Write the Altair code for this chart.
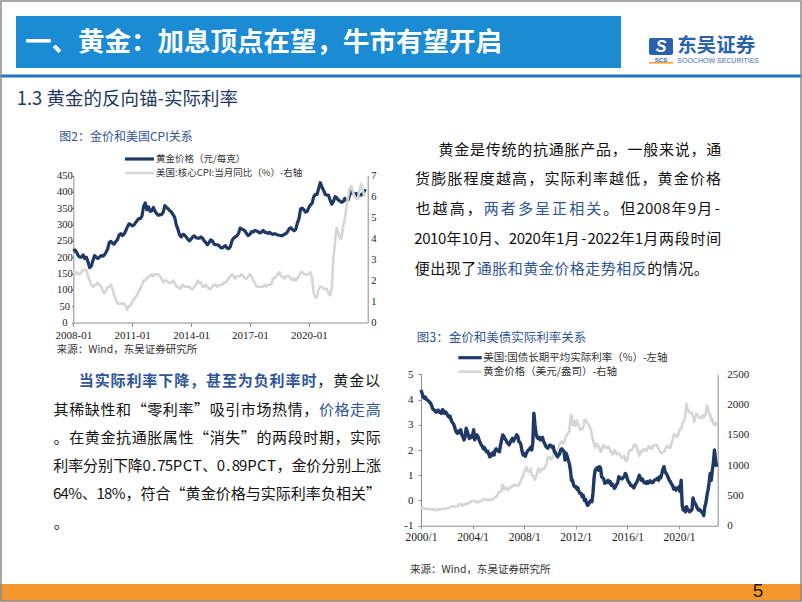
import altair as alt
import pandas as pd

# ---------------- data ----------------
# Fig.2: monthly, starting 2008-01
fig2_start = (2008, 1)
fig2_gold_cny = [
    218, 222, 215, 205, 200, 200, 207, 196, 200, 185, 168, 172,
    190, 205, 200, 196, 200, 205, 203, 207, 215, 225, 245, 248,
    243, 240, 248, 253, 268, 272, 266, 270, 280, 292, 302, 300,
    296, 298, 305, 312, 318, 318, 326, 356, 366, 345, 354, 340,
    342, 352, 340, 333, 328, 330, 330, 338, 358, 352, 348, 342,
    338, 330, 322, 298, 285, 268, 262, 270, 268, 262, 255, 250,
    255, 262, 265, 260, 258, 258, 262, 258, 250, 245, 238, 244,
    253, 250, 240, 238, 238, 236, 230, 228, 232, 235, 228, 226,
    232, 250, 258, 262, 265, 272, 289, 286, 284, 280, 272, 266,
    270, 278, 277, 282, 280, 278, 274, 277, 282, 276, 276, 273,
    276, 272, 270, 272, 270, 268, 267, 266, 266, 270, 272, 278,
    287, 290, 285, 281, 285, 305, 318, 348, 350, 345, 338, 340,
    352, 360, 365, 385, 392, 392, 410, 428, 415, 405, 392, 390,
    390, 375, 362, 370, 385, 382, 375, 372, 368, 370, 380, 373,
    375, 390, 405, 396, 392, 395, 386, 392, 390, 395, 404, 402,
]
fig2_core_cpi = [
    2.5, 2.3, 2.4, 2.3, 2.3, 2.4, 2.5, 2.5, 2.5, 2.2, 2.0, 1.8,
    1.7, 1.8, 1.8, 1.9, 1.8, 1.7, 1.5, 1.4, 1.5, 1.7, 1.7, 1.8,
    1.6, 1.3, 1.1, 0.9, 0.9, 0.9, 0.9, 0.9, 0.8, 0.6, 0.8, 0.8,
    1.0, 1.1, 1.2, 1.3, 1.5, 1.6, 1.8, 2.0, 2.0, 2.1, 2.2, 2.2,
    2.3, 2.2, 2.3, 2.3, 2.3, 2.2, 2.1, 1.9, 2.0, 2.0, 1.9, 1.9,
    1.9, 2.0, 1.9, 1.7, 1.7, 1.6, 1.7, 1.8, 1.7, 1.7, 1.7, 1.7,
    1.6, 1.6, 1.7, 1.8, 2.0, 1.9, 1.9, 1.7, 1.7, 1.8, 1.7, 1.6,
    1.6, 1.7, 1.8, 1.8, 1.7, 1.8, 1.8, 1.8, 1.9, 1.9, 2.0, 2.1,
    2.2, 2.3, 2.2, 2.1, 2.2, 2.2, 2.2, 2.3, 2.2, 2.1, 2.1, 2.2,
    2.3, 2.2, 2.0, 1.9, 1.7, 1.7, 1.7, 1.7, 1.7, 1.8, 1.7, 1.8,
    1.8, 1.8, 2.1, 2.1, 2.2, 2.3, 2.4, 2.2, 2.2, 2.1, 2.2, 2.2,
    2.2, 2.1, 2.0, 2.1, 2.0, 2.1, 2.2, 2.4, 2.4, 2.3, 2.3, 2.3,
    2.3, 2.4, 2.1, 1.4, 1.2, 1.2, 1.6, 1.7, 1.7, 1.6, 1.6, 1.6,
    1.4, 1.3, 1.6, 3.0, 3.8, 4.5, 4.3, 4.0, 4.0, 4.6, 4.9, 5.5,
    6.0, 6.4, 6.5, 6.2, 6.0, 5.9, 5.9, 6.3, 6.6, 6.3, 6.0,
]

# Fig.3: monthly, starting 2000-01
fig3_start = (2000, 1)
fig3_real_rate = [
    4.38, 4.25, 4.1, 4.05, 4.1, 4.0, 3.98, 3.95, 3.9, 3.85, 3.75, 3.62,
    3.6, 3.55, 3.5, 3.55, 3.58, 3.5, 3.52, 3.45, 3.6, 3.55, 3.45, 3.5,
    3.45, 3.35, 3.3, 3.35, 3.2, 3.1, 3.05, 2.95, 2.8, 2.7, 2.66, 2.75,
    2.7, 2.8, 2.6, 2.53, 2.4, 2.5, 2.86, 2.75, 2.6, 2.46, 2.55, 2.5,
    2.6, 2.8, 2.4, 2.55, 2.6, 2.53, 2.4, 2.3, 2.2, 2.15, 2.05, 2.1,
    2.0, 1.93, 1.95, 1.85, 1.73, 1.75, 1.87, 1.9, 1.8, 2.0, 2.05, 2.0,
    1.95, 1.93, 2.2, 2.4, 2.6, 2.55, 2.45, 2.4, 2.3, 2.26, 2.2, 2.3,
    2.4, 2.46, 2.35, 2.45, 2.5, 2.6, 2.55, 2.33, 2.3, 2.2, 1.95, 1.8,
    1.85, 1.75, 1.87, 1.95, 2.0, 2.05, 2.1, 2.0, 2.3, 3.46, 3.0, 2.66,
    2.5, 2.46, 2.5, 2.4, 2.45, 2.5, 2.35, 2.26, 2.15, 2.1, 2.07, 2.15,
    2.2, 2.15, 2.1, 2.15, 1.93, 1.9, 1.8, 1.73, 1.8, 1.85, 2.0, 2.05,
    2.0, 1.95, 1.6, 1.87, 1.75, 1.6, 1.45, 1.2, 0.8, 0.8, 0.6, 0.54,
    0.55, 0.45, 0.5, 0.34, 0.28, 0.28, 0.15, 0.2, 0.0, 0.05, -0.1, -0.2,
    -0.15, -0.05, 0.0, -0.05, 0.3, 0.9, 1.2, 1.25, 1.3, 1.2, 1.34, 1.3,
    0.94, 0.9, 0.85, 0.68, 0.7, 0.75, 0.8, 0.7, 0.75, 0.6, 0.65, 0.55,
    0.48, 0.55, 0.65, 0.7, 0.94, 0.9, 0.87, 0.85, 0.9, 0.95, 1.07, 1.0,
    0.85, 0.74, 0.7, 0.6, 0.6, 0.54, 0.5, 0.6, 0.68, 0.75, 0.87, 1.0,
    0.9, 0.8, 0.85, 0.75, 0.7, 0.68, 0.75, 0.68, 0.7, 0.78, 0.74, 0.7,
    0.72, 0.8, 0.82, 0.85, 0.88, 0.8, 0.94, 0.9, 1.05, 1.25, 1.34, 1.15,
    1.07, 1.0, 0.9, 0.8, 0.75, 0.65, 0.6, 0.45, 0.5, 0.41, 0.48, 0.45,
    0.54, 0.35, 0.8, -0.2, -0.38, -0.3, -0.45, -0.25, -0.35, -0.4, -0.45, -0.4,
    -0.38, 0.1, -0.05, -0.12, -0.2, -0.3, -0.38, -0.35, -0.4, -0.45, -0.5, -0.6,
    -0.25, -0.1, 0.2, 0.41, 0.7, 1.07, 0.8, 1.2, 1.5, 2.0, 1.6, 1.34,
]
fig3_gold_usd = [
    290, 298, 286, 280, 275, 285, 282, 275, 273, 270, 266, 272,
    266, 262, 263, 261, 272, 270, 268, 273, 284, 283, 276, 276,
    282, 296, 294, 302, 314, 321, 313, 310, 319, 317, 319, 333,
    357, 359, 340, 328, 355, 356, 351, 360, 379, 379, 389, 407,
    414, 405, 406, 404, 384, 392, 398, 400, 405, 420, 439, 442,
    424, 423, 434, 429, 422, 430, 424, 437, 456, 470, 476, 510,
    549, 555, 557, 610, 676, 596, 633, 632, 598, 585, 627, 629,
    631, 664, 655, 679, 667, 655, 665, 665, 712, 754, 806, 803,
    889, 922, 968, 909, 888, 889, 939, 839, 829, 806, 760, 816,
    858, 943, 924, 890, 928, 946, 934, 949, 996, 1043, 1127, 1134,
    1118, 1095, 1113, 1148, 1205, 1232, 1193, 1215, 1271, 1342, 1370, 1391,
    1356, 1372, 1424, 1473, 1510, 1529, 1572, 1780, 1830, 1665, 1739, 1652,
    1656, 1742, 1674, 1650, 1585, 1596, 1594, 1630, 1744, 1747, 1722, 1685,
    1671, 1627, 1593, 1487, 1414, 1343, 1286, 1352, 1348, 1316, 1275, 1221,
    1244, 1300, 1336, 1299, 1287, 1279, 1311, 1296, 1238, 1222, 1176, 1200,
    1251, 1227, 1178, 1198, 1199, 1181, 1128, 1117, 1125, 1159, 1086, 1068,
    1097, 1199, 1246, 1242, 1260, 1276, 1337, 1340, 1326, 1266, 1236, 1151,
    1192, 1234, 1231, 1266, 1246, 1260, 1237, 1283, 1315, 1280, 1282, 1265,
    1331, 1331, 1325, 1335, 1303, 1281, 1238, 1202, 1199, 1215, 1220, 1250,
    1291, 1320, 1300, 1286, 1284, 1359, 1413, 1500, 1510, 1495, 1471, 1480,
    1560, 1597, 1592, 1683, 1716, 1732, 1847, 2010, 1921, 1901, 1866, 1858,
    1867, 1808, 1718, 1760, 1850, 1834, 1807, 1785, 1775, 1777, 1821, 1790,
    1817, 1856, 1990, 1937, 1849, 1837, 1732, 1764, 1681, 1664, 1700, 1640,
]

fig2_x_ticks = [2008, 2011, 2014, 2017, 2020]
fig2_left_ticks = [0, 50, 100, 150, 200, 250, 300, 350, 400, 450]
fig2_right_ticks = [0, 1, 2, 3, 4, 5, 6, 7]
fig3_x_ticks = [2000, 2004, 2008, 2012, 2016, 2020]
fig3_left_ticks = [-1, 0, 1, 2, 3, 4, 5]
fig3_right_ticks = [0, 500, 1000, 1500, 2000, 2500]

# ---------------- styles ----------------
CJK = "Noto Sans CJK SC"
SERIF = "Liberation Serif"
NAVY = "#1f3864"
LGRAY = "#d6d6d6"
BLUE_TXT = "#2f5597"
BLACK = "#111111"
AXIS_GRAY = "#8c8c8c"
W, H = 802, 602


def month_axis(start, n):
    y0, m0 = start
    return [y0 + (m0 - 1 + i) / 12 for i in range(n)]


def one():
    return alt.Chart(alt.Data(values=[{}]))


def box(x, x2, y, y2, color, **kw):
    return one().mark_rect(color=color, **kw).encode(
        x=alt.value(x), x2=alt.value(x2), y=alt.value(y), y2=alt.value(y2))


def hline(x, x2, y, color, w):
    return one().mark_rule(color=color, strokeWidth=w).encode(
        x=alt.value(x), x2=alt.value(x2), y=alt.value(y))


def label(text, x, y, size, color, font=CJK, weight="normal", align="left", style="normal"):
    return one().mark_text(text=text, align=align, baseline="middle", font=font,
                           fontSize=size, fontWeight=weight, color=color,
                           fontStyle=style).encode(x=alt.value(x), y=alt.value(y))


def make_axis(orient, offset, values, expr, size=11, tick=3, pad=3, align=None):
    kw = dict(orient=orient, offset=offset, values=values, labelExpr=expr, title=None,
              grid=False, labelFont=SERIF, labelFontSize=size, labelColor="#1a1a1a",
              domainColor=AXIS_GRAY, domainWidth=1, tickColor=AXIS_GRAY,
              labelPadding=pad, labelFlush=False, labelOverlap=False, labelBound=False)
    if tick > 0:
        kw.update(ticks=True, tickSize=tick)
    else:
        kw.update(ticks=False)
    if align:
        kw["labelAlign"] = align
    return alt.Axis(**kw)


# ---------------- Fig.2 ----------------
f2_x0, f2_x1, f2_ybot, f2_ytop = 73.3, 367.7, 322.5, 175.5
df2_gold = pd.DataFrame({"t": month_axis(fig2_start, len(fig2_gold_cny)), "v": fig2_gold_cny})
df2_cpi = pd.DataFrame({"t": month_axis(fig2_start, len(fig2_core_cpi)), "v": fig2_core_cpi})
x2_scale = alt.Scale(domain=[2008, 2023], range=[f2_x0, f2_x1], nice=False, zero=False)

fig2_gold = alt.Chart(df2_gold).mark_line(color=NAVY, strokeWidth=3.2, strokeJoin="round").encode(
    x=alt.X("t:Q", scale=x2_scale,
            axis=make_axis("bottom", f2_ybot - H, fig2_x_ticks, "datum.value + '-01'",
                           size=11, tick=4, pad=3)),
    y=alt.Y("v:Q", scale=alt.Scale(domain=[0, 450], range=[f2_ybot, f2_ytop], nice=False, zero=False),
            axis=make_axis("left", -f2_x0, fig2_left_ticks, "'' + datum.value",
                           size=10.5, tick=2, pad=7, align="center")),
)
fig2_cpi = alt.Chart(df2_cpi).mark_line(color=LGRAY, strokeWidth=2.6, strokeJoin="round").encode(
    x=alt.X("t:Q", scale=x2_scale, axis=None),
    y=alt.Y("v:Q", scale=alt.Scale(domain=[0, 7], range=[f2_ybot, f2_ytop], nice=False, zero=False),
            axis=make_axis("right", f2_x1 - W, fig2_right_ticks, "'' + datum.value",
                           size=10.5, tick=0, pad=3)),
)

# ---------------- Fig.3 ----------------
f3_x0, f3_x1, f3_ybot, f3_ytop = 421.0, 717.7, 525.7, 374.3
df3_rate = pd.DataFrame({"t": month_axis(fig3_start, len(fig3_real_rate)), "v": fig3_real_rate})
df3_gold = pd.DataFrame({"t": month_axis(fig3_start, len(fig3_gold_usd)), "v": fig3_gold_usd})
x3_scale = alt.Scale(domain=[2000, 2023], range=[f3_x0, f3_x1], nice=False, zero=False)

fig3_gold = alt.Chart(df3_gold).mark_line(color=LGRAY, strokeWidth=2.6, strokeJoin="round").encode(
    x=alt.X("t:Q", scale=x3_scale, axis=None),
    y=alt.Y("v:Q", scale=alt.Scale(domain=[0, 2500], range=[f3_ybot, f3_ytop], nice=False, zero=False),
            axis=make_axis("right", f3_x1 - W, fig3_right_ticks, "'' + datum.value",
                           size=11, tick=0, pad=9)),
)
fig3_rate = alt.Chart(df3_rate).mark_line(color=NAVY, strokeWidth=3.4, strokeJoin="round").encode(
    x=alt.X("t:Q", scale=x3_scale,
            axis=make_axis("bottom", f3_ybot - H, fig3_x_ticks, "datum.value + '/1'",
                           size=11.5, tick=3, pad=3)),
    y=alt.Y("v:Q", scale=alt.Scale(domain=[-1, 5], range=[f3_ybot, f3_ytop], nice=False, zero=False),
            axis=make_axis("left", -f3_x0, fig3_left_ticks, "'' + datum.value",
                           size=11, tick=3, pad=5)),
)

# ---------------- paragraphs (per-character justified layout) ----------------
def char_units(c):
    if c == "%":
        return 0.9
    if c.isupper():
        return 0.66
    return 0.5 if ord(c) < 128 else 1.0


def para_rows(lines):
    rows = []
    for x0, x1, y, pitch, segs in lines:
        chars = [(c, col, wt) for txt, col, wt in segs for c in txt]
        units = [char_units(c) for c, _, _ in chars]
        if x1 is not None:
            pitch = (x1 - x0) / sum(units)
        cx = x0
        for (c, col, wt), u in zip(chars, units):
            rows.append(dict(x=cx + u * pitch / 2, y=y, ch=c, color=col, weight=wt))
            cx += u * pitch
    return pd.DataFrame(rows)


N, B = "normal", "bold"
para_lines = [
    (438.0, 721.7, 149.5, None, [("黄金是传统的抗通胀产品，一般来说，通", BLACK, N)]),
    (414.5, 721.7, 179.3, None, [("货膨胀程度越高，实际利率越低，黄金价格", BLACK, N)]),
    (414.5, 721.7, 209.0, None, [("也越高，", BLACK, N), ("两者多呈正相关", BLUE_TXT, N),
                                 ("。但2008年9月-", BLACK, N)]),
    (414.5, 721.7, 238.8, None, [("2010年10月、2020年1月-2022年1月两段时间", BLACK, N)]),
    (414.5, None, 268.5, 15.5, [("便出现了", BLACK, N), ("通胀和黄金价格走势相反", BLUE_TXT, N),
                                ("的情况。", BLACK, N)]),
    (78.3, 380.5, 381.0, None, [("当实际利率下降，甚至为负利率时", BLUE_TXT, B), ("，黄金以", BLACK, N)]),
    (53.3, 381.0, 409.5, None, [("其稀缺性和“零利率”吸引市场热情，", BLACK, N), ("价格走高", BLUE_TXT, N)]),
    (53.3, 381.0, 437.8, None, [("。在黄金抗通胀属性“消失”的两段时期，实际", BLACK, N)]),
    (53.3, 381.0, 466.0, None, [("利率分别下降0.75PCT、0.89PCT，金价分别上涨", BLACK, N)]),
    (53.3, 381.0, 494.2, None, [("64%、18%，符合“黄金价格与实际利率负相关”", BLACK, N)]),
    (53.3, None, 523.0, 15.7, [("。", BLACK, N)]),
]
df_para = para_rows(para_lines)


def para_layer(weight):
    return alt.Chart(df_para).transform_filter(alt.datum.weight == weight).mark_text(
        align="center", baseline="middle", font=CJK, fontSize=15, fontWeight=weight
    ).encode(
        x=alt.X("x:Q", scale=None, axis=None),
        y=alt.Y("y:Q", scale=None, axis=None),
        text="ch:N",
        color=alt.Color("color:N", scale=None, legend=None),
    )


# ---------------- slide decorations & texts ----------------
ORANGE = "#f7982f"
decor = [
    box(16, 621, 16, 68, "#1b8bd3"),
    box(0, W, 74.5, 77.5, "#2272c3"),
    box(0, W, 584, 601, ORANGE),
    # logo
    box(649, 673, 38, 55, "#2a62ad", cornerRadius=2),
    label("S", 661, 46.5, 16, "white", font="Liberation Sans", weight="bold", align="center", style="italic"),
    label("SCS", 661, 59.5, 6, "#2a62ad", font="Liberation Sans", weight="bold", align="center"),
    hline(649, 673, 62.8, ORANGE, 1.5),
    label("东吴证券", 677.3, 45.5, 19.5, "#2a62ad", weight="bold"),
    label("SOOCHOW SECURITIES", 677.3, 61, 7, "#3b6fb6", font="Liberation Sans"),
]

texts = [
    label("一、黄金：加息顶点在望，牛市有望开启", 25, 43, 26.5, "white", weight="bold"),
    label("1.3 黄金的反向锚-实际利率", 16.7, 98.5, 18.5, NAVY),
    label("图2：金价和美国CPI关系", 59.3, 136.7, 12, BLUE_TXT),
    hline(125, 154, 159, NAVY, 3.2),
    label("黄金价格（元/每克）", 156, 159, 9.5, "#333333"),
    hline(125, 154, 173, LGRAY, 2.6),
    label("美国:核心CPI:当月同比（%）-右轴", 156, 173, 9.5, "#333333"),
    label("来源：Wind，东吴证券研究所", 56.7, 350, 10.5, "#333333"),
    label("图3：金价和美债实际利率关系", 416.7, 338.3, 12.5, BLUE_TXT),
    hline(458.3, 481.7, 357.7, NAVY, 3.2),
    label("美国:国债长期平均实际利率（%）-左轴", 483.3, 357.7, 10.5, "#333333"),
    hline(458.3, 481.7, 371.7, LGRAY, 2.6),
    label("黄金价格（美元/盎司）-右轴", 483.3, 371.7, 10.5, "#333333"),
    label("来源：Wind，东吴证券研究所", 410, 570, 10.5, "#333333"),
    label("5", 758, 591, 19, "#222222", font="Liberation Sans", align="center"),
]

border = box(1, 801, 1, 601, "#8c8c8c", fill=None, fillOpacity=0, stroke="#8c8c8c", strokeWidth=1.5)

chart = alt.layer(
    *decor,
    fig2_gold, fig2_cpi,
    fig3_gold, fig3_rate,
    para_layer(N), para_layer(B),
    *texts,
    border,
).resolve_scale(x="independent", y="independent").properties(
    width=W, height=H, padding=0, background="white",
    autosize=alt.AutoSizeParams(type="none"),
).configure_view(stroke=None)

chart.save("out.html", embed_options={"renderer": "svg", "actions": False})
